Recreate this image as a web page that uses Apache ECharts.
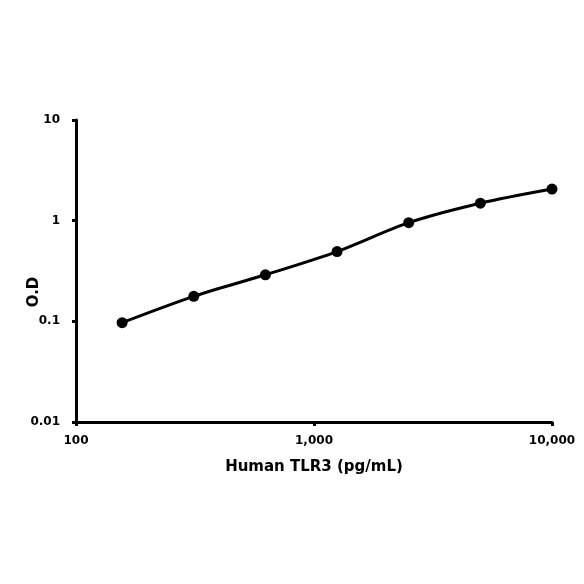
<!DOCTYPE html>
<html>
<head>
<meta charset="utf-8">
<script src="https://cdn.jsdelivr.net/npm/echarts@6/dist/echarts.min.js"></script>
<style>
	html, body { margin: 0; padding: 0; background: #ffffff; }
	#chart { width: 584px; height: 584px; }
</style>
</head>
<body>
<div id="chart"></div>
<script>
	// concentration (pg/mL) and optical density
	var concentrations = [156.25, 312.5, 625, 1250, 2500, 5000, 10000];
	var odValues = [0.097, 0.177, 0.29, 0.493, 0.955, 1.49, 2.06];
	var xTitle = 'Human TLR3 (pg/mL)';
	var yTitle = 'O.D';

	var points = [];
	for (var i = 0; i < concentrations.length; i++) {
		points.push([concentrations[i], odValues[i]]);
	}

	var fontName = '"DejaVu Sans", "Liberation Sans", Arial, sans-serif';

	var mychart = echarts.init(document.getElementById('chart'));
	var option = {
		backgroundColor: '#ffffff',
		animation: false,
		grid: {
			left: 76,
			right: 32,
			top: 120,
			bottom: 162
		},
		xAxis: {
			type: 'log',
			logBase: 10,
			min: 100,
			max: 10000,
			name: xTitle,
			nameLocation: 'middle',
			nameGap: 38,
			nameTextStyle: {
				color: '#000000',
				fontFamily: fontName,
				fontSize: 15,
				fontWeight: 'bold'
			},
			axisLine: {
				onZero: false,
				lineStyle: { color: '#000000', width: 3 }
			},
			axisTick: {
				show: true,
				length: 4,
				lineStyle: { color: '#000000', width: 3 }
			},
			minorTick: { show: false },
			splitLine: { show: false },
			axisLabel: {
				color: '#000000',
				fontFamily: fontName,
				fontSize: 12,
				fontWeight: 'bold',
				margin: 13,
				formatter: function (val) {
					return Math.round(val).toLocaleString('en-US');
				}
			}
		},
		yAxis: {
			type: 'log',
			logBase: 10,
			min: 0.01,
			max: 10,
			axisLine: {
				show: true,
				onZero: false,
				lineStyle: { color: '#000000', width: 3 }
			},
			axisTick: {
				show: true,
				length: 4,
				lineStyle: { color: '#000000', width: 3 }
			},
			splitLine: { show: false },
			axisLabel: {
				color: '#000000',
				fontFamily: fontName,
				fontSize: 12,
				fontWeight: 'bold',
				margin: 16,
				formatter: function (val) {
					return String(parseFloat(val.toPrecision(6)));
				}
			}
		},
		graphic: [
			{
				type: 'text',
				x: 34,
				y: 292,
				rotation: Math.PI / 2,
				style: {
					text: yTitle,
					fill: '#000000',
					font: 'bold 15px ' + fontName,
					textAlign: 'center',
					textVerticalAlign: 'middle'
				}
			}
		],
		series: [
			{
				type: 'line',
				data: points,
				smooth: 0.3,
				symbol: 'circle',
				symbolSize: 11,
				lineStyle: { color: '#000000', width: 3 },
				itemStyle: { color: '#000000' }
			}
		]
	};
	mychart.setOption(option);
</script>
</body>
</html>
